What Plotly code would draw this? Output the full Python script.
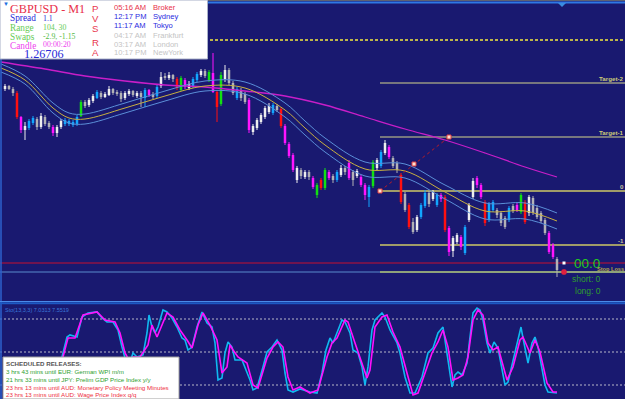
import plotly.graph_objects as go

W, H = 625, 399
BG = "#191970"
SERIF = "Liberation Serif, Times New Roman, serif"
SANS = "Liberation Sans, Arial, sans-serif"

# ---------------- data: M1 candles (bar index 0..138) ----------------
candle_open = [1.26887,1.26890,1.26887,1.26883,1.26859,1.26846,1.26848,1.26853,1.26857,1.26849,
               1.26859,1.26853,1.26849,1.26843,1.26849,1.26852,1.26852,1.26851,1.26852,1.26860,
               1.26874,1.26871,1.26875,1.26878,1.26883,1.26879,1.26881,1.26887,1.26884,1.26883,
               1.26878,1.26882,1.26885,1.26880,1.26883,1.26878,1.26886,1.26882,1.26880,1.26890,
               1.26900,1.26898,1.26901,1.26897,1.26886,1.26896,1.26888,1.26890,1.26896,1.26901,
               1.26905,1.26896,1.26903,1.26884,1.26872,1.26897,1.26906,1.26893,1.26878,1.26886,
               1.26882,1.26876,1.26844,1.26848,1.26854,1.26859,1.26864,1.26863,1.26870,1.26867,
               1.26850,1.26832,1.26821,1.26796,1.26806,1.26799,1.26804,1.26798,1.26781,1.26796,
               1.26788,1.26804,1.26800,1.26796,1.26801,1.26808,1.26813,1.26804,1.26800,1.26799,
               1.26791,1.26779,1.26790,1.26808,1.26810,1.26823,1.26829,1.26818,1.26813,1.26801,
               1.26782,1.26771,1.26754,1.26746,1.26759,1.26770,1.26783,1.26777,1.26771,1.26781,
               1.26779,1.26748,1.26725,1.26734,1.26739,1.26723,1.26756,1.26779,1.26798,1.26791,
               1.26774,1.26756,1.26766,1.26766,1.26763,1.26758,1.26756,1.26770,1.26771,1.26764,
               1.26774,1.26763,1.26778,1.26768,1.26763,1.26756,1.26743,1.26731,1.26717]
candle_close = [1.26890,1.26887,1.26883,1.26859,1.26846,1.26850,1.26855,1.26858,1.26849,1.26860,
                1.26852,1.26849,1.26843,1.26849,1.26855,1.26856,1.26855,1.26854,1.26859,1.26874,
                1.26870,1.26876,1.26880,1.26884,1.26879,1.26882,1.26887,1.26883,1.26882,1.26877,
                1.26883,1.26885,1.26881,1.26883,1.26879,1.26886,1.26881,1.26879,1.26889,1.26899,
                1.26898,1.26901,1.26897,1.26888,1.26898,1.26889,1.26892,1.26897,1.26902,1.26905,
                1.26900,1.26904,1.26884,1.26869,1.26901,1.26906,1.26893,1.26883,1.26887,1.26878,
                1.26874,1.26846,1.26850,1.26856,1.26861,1.26868,1.26870,1.26871,1.26866,1.26850,
                1.26833,1.26820,1.26806,1.26808,1.26800,1.26804,1.26799,1.26789,1.26791,1.26788,
                1.26806,1.26798,1.26796,1.26804,1.26808,1.26804,1.26798,1.26796,1.26805,1.26791,
                1.26781,1.26789,1.26814,1.26816,1.26824,1.26833,1.26819,1.26810,1.26806,1.26774,
                1.26766,1.26749,1.26744,1.26759,1.26771,1.26783,1.26772,1.26784,1.26781,1.26777,
                1.26746,1.26724,1.26738,1.26741,1.26729,1.26749,1.26771,1.26795,1.26791,1.26779,
                1.26753,1.26772,1.26774,1.26761,1.26753,1.26749,1.26768,1.26765,1.26766,1.26781,
                1.26754,1.26779,1.26763,1.26759,1.26755,1.26743,1.26724,1.26719,1.26706]
candle_high = [1.26892,1.26891,1.26889,1.26885,1.26860,1.26854,1.26857,1.26860,1.26859,1.26863,
               1.26861,1.26855,1.26851,1.26851,1.26857,1.26858,1.26857,1.26856,1.26861,1.26876,
               1.26876,1.26878,1.26882,1.26886,1.26885,1.26884,1.26890,1.26888,1.26886,1.26885,
               1.26885,1.26887,1.26886,1.26885,1.26885,1.26888,1.26887,1.26884,1.26891,1.26904,
               1.26903,1.26904,1.26902,1.26899,1.26900,1.26898,1.26895,1.26899,1.26904,1.26907,
               1.26907,1.26906,1.26923,1.26886,1.26904,1.26911,1.26908,1.26895,1.26889,1.26888,
               1.26884,1.26878,1.26852,1.26858,1.26863,1.26870,1.26873,1.26873,1.26872,1.26869,
               1.26852,1.26834,1.26823,1.26810,1.26808,1.26806,1.26806,1.26800,1.26793,1.26798,
               1.26808,1.26806,1.26802,1.26806,1.26811,1.26810,1.26816,1.26806,1.26807,1.26801,
               1.26793,1.26791,1.26816,1.26818,1.26826,1.26836,1.26831,1.26820,1.26815,1.26803,
               1.26784,1.26773,1.26758,1.26761,1.26773,1.26786,1.26785,1.26786,1.26783,1.26783,
               1.26781,1.26750,1.26740,1.26743,1.26741,1.26751,1.26773,1.26798,1.26800,1.26793,
               1.26776,1.26774,1.26776,1.26768,1.26765,1.26760,1.26770,1.26772,1.26773,1.26783,
               1.26776,1.26781,1.26780,1.26771,1.26765,1.26758,1.26745,1.26733,1.26719]
candle_low = [1.26885,1.26886,1.26880,1.26857,1.26843,1.26836,1.26846,1.26851,1.26846,1.26847,
              1.26850,1.26847,1.26840,1.26839,1.26847,1.26850,1.26850,1.26849,1.26850,1.26859,
              1.26868,1.26869,1.26873,1.26877,1.26877,1.26878,1.26880,1.26881,1.26880,1.26874,
              1.26876,1.26880,1.26879,1.26878,1.26869,1.26869,1.26879,1.26877,1.26878,1.26888,
              1.26896,1.26896,1.26894,1.26886,1.26885,1.26887,1.26886,1.26888,1.26894,1.26899,
              1.26898,1.26894,1.26883,1.26854,1.26870,1.26894,1.26891,1.26881,1.26876,1.26875,
              1.26872,1.26843,1.26841,1.26846,1.26852,1.26857,1.26862,1.26861,1.26864,1.26848,
              1.26831,1.26818,1.26804,1.26793,1.26797,1.26797,1.26796,1.26787,1.26778,1.26786,
              1.26786,1.26796,1.26793,1.26794,1.26799,1.26801,1.26796,1.26790,1.26798,1.26789,
              1.26776,1.26769,1.26788,1.26806,1.26808,1.26821,1.26817,1.26808,1.26803,1.26772,
              1.26764,1.26747,1.26742,1.26744,1.26757,1.26768,1.26769,1.26775,1.26769,1.26774,
              1.26744,1.26720,1.26719,1.26732,1.26726,1.26721,1.26754,1.26777,1.26788,1.26777,
              1.26750,1.26754,1.26764,1.26758,1.26750,1.26747,1.26754,1.26763,1.26764,1.26762,
              1.26752,1.26760,1.26761,1.26757,1.26753,1.26741,1.26722,1.26717,1.26699]
# PVSRA class per bar: W normal bull, G normal bear, R bear climax, N bull climax,
# M bear rising volume, C bull rising volume
candle_class = ("W G G R M W C C G W G G M W W C C C C N "
                "G W W C G W W G G G W W G W G C M G C W "
                "G W G R N M W C C W G N M R N W G G C G "
                "G M W W W W W C G R M M M W G W G M N R "
                "N M G C W G M G W M M C N W C W M G G R "
                "G R G W C C G W C M R M W W M C W W M M "
                "R C C G G G C G M N R W G G G G M M G").split()
class_colors = {"W": "#eeeeee", "G": "#b2b2b6", "R": "#ff1010", "N": "#12e012",
                "M": "#ff14ff", "C": "#12a6ff"}

# ---------------- data: indicators on the price chart ----------------
sma_idx = [-1, 10, 20, 30, 40, 50, 60, 70, 80, 90, 100, 110, 120, 130, 138]
sma_val = [1.26914, 1.26907, 1.26900, 1.26895, 1.26891, 1.26889, 1.26885, 1.26880,
           1.26871, 1.26859, 1.26847, 1.26836, 1.26823, 1.26809, 1.26799]
band_idx = [-1, 5, 12, 16, 20, 30, 40, 50, 60, 70, 75, 80, 90, 100, 110, 120, 130, 138]
band_mid = [1.26908, 1.26896, 1.26868, 1.26858, 1.26857, 1.26868, 1.26880, 1.26890, 1.26888,
            1.26866, 1.26848, 1.26831, 1.26807, 1.26805, 1.26784, 1.26765, 1.26765, 1.26755]
band_up = [1.26912, 1.26900, 1.26873, 1.26863, 1.26862, 1.26873, 1.26885, 1.26895, 1.26894,
           1.26873, 1.26855, 1.26838, 1.26814, 1.26812, 1.26791, 1.26773, 1.26773, 1.26763]
band_lo = [1.26904, 1.26892, 1.26863, 1.26853, 1.26852, 1.26863, 1.26875, 1.26885, 1.26882,
           1.26859, 1.26841, 1.26824, 1.26800, 1.26798, 1.26777, 1.26757, 1.26757, 1.26747]

# horizontal levels
level_names = ["Target-2", "Target-1", "0", "-1", "Stop Loss"]
level_prices = [1.26893, 1.26839, 1.26785, 1.26731, 1.26704]
level_start = 93.75
day_line = 1.26936
ask_line = 1.26713
bid_line = 1.26704
trend_idx = [93.75, 102.25, 111.0]
trend_val = [1.26785, 1.26812, 1.26839]
mark_idx = 139.75
mark_white = 1.26713
mark_red = 1.26704

# ---------------- data: Stochastic (13,3,3) ----------------
sto_main_idx = [0,3.75,7.5,10.75,12.5,14.25,15.5,16.25,18,19.25,20.75,23,24.25,25.5,27,28.25,29.25,30,31,32,
                33,34.5,35.5,36,36.75,37.5,38.25,39.5,40.5,41.75,43,44.25,45,45.75,46.75,48,49.25,50.5,51.75,52.5,
                53.25,54.25,55,55.75,56.75,57.5,59.25,60,61.25,62,63,64.5,65.5,66.75,68,69.25,70,70.75,72,73.75,
                76.25,78,79.25,80.25,81.25,82,83,84.25,85,86.25,87,88.25,89.25,90,90.75,91.75,92.5,94.25,95,96.25,
                98,98.75,100,101.25,102.5,104.25,105.75,107,108.25,109.5,110.75,111.75,112.5,113.25,114.25,115.5,116.25,117,118,118.75,
                119.5,120.5,121.25,122.25,123.25,124.25,125,125.75,127,128.25,129,129.5,130.75,131.75,132.5,133.25,134.25,135,135.75,138]
sto_main = [20.0,15.5,17.3,29.1,40.9,45.5,63.6,65.5,63.6,81.8,85.5,86.4,80.9,77.3,77.3,70.0,54.5,44.5,38.2,49.1,
            45.5,47.3,67.3,83.6,72.7,67.3,72.7,88.2,86.4,80.9,72.7,62.7,60.9,51.8,54.5,72.7,86.4,76.4,72.7,58.2,
            24.5,26.4,49.1,59.1,54.5,42.7,42.7,36.4,24.5,15.5,17.3,36.4,50.0,54.5,60.9,51.8,30.9,15.5,13.6,16.4,
            13.6,12.7,30.9,51.8,62.7,58.2,67.3,79.1,77.3,67.3,51.8,49.1,36.4,20.0,36.4,70.0,79.1,85.5,81.8,70.0,
            58.2,49.1,27.3,12.7,12.7,27.3,49.1,53.6,67.3,72.7,42.7,18.2,29.1,31.8,29.1,40.0,63.6,85.5,90.0,88.2,
            79.1,58.2,49.1,59.1,53.6,33.6,20.0,22.7,42.7,60.9,72.7,62.7,40.0,58.2,63.6,54.5,33.6,20.0,13.6,12.7]
sto_sig_idx = [0,3.75,7.5,11.25,13.25,14.5,15.75,17.5,19.5,23,25,27.5,28.75,30,31.25,32,33.75,35.75,36.75,38,
               39.25,40.5,42,43.75,45.5,46.75,48.25,49.5,51.25,53,54.25,55.5,56.25,57,58.25,60.5,62,63.25,65.5,67,
               68.25,69.5,70.75,72,73.75,76.25,78.25,80.5,81.75,83,85,85.75,87.5,88.75,90.5,91.25,92.5,94.25,95.5,97,
               98.75,100.5,102,103.25,105,106.75,108.25,109.5,110.75,112,113.25,114.5,115.75,117,118.25,119.5,120.75,122,123.25,125.5,
               127,128.75,129.5,131.25,132.5,133.75,135.5,137,138]
sto_sig = [17.3,15.5,16.4,24.5,35.5,45.5,62.7,62.7,83.6,86.4,79.1,77.3,67.3,49.1,40.9,45.5,45.5,56.4,74.5,63.6,
           74.5,85.5,81.8,70.0,60.9,53.6,74.5,85.5,74.5,60.9,30.9,36.4,56.4,51.8,45.5,40.0,20.0,17.3,44.5,54.5,
           59.1,54.5,27.3,15.5,18.2,12.7,15.5,45.5,58.2,62.7,79.1,77.3,58.2,45.5,26.4,33.6,72.7,81.8,83.6,68.2,
           54.5,30.9,10.9,12.7,30.9,49.1,59.1,70.0,54.5,24.5,26.4,29.1,45.5,79.1,88.2,83.6,58.2,51.8,54.5,24.5,
           36.4,60.9,63.6,49.1,60.9,50.0,21.8,13.6,13.6]
sto_levels = [80, 50, 20]

# ---------------- text content ----------------
clock_times = ["05:16 AM", "12:17 PM", "11:17 AM", "04:17 AM", "03:17 AM", "10:17 PM"]
clock_names = ["Broker", "Sydney", "Tokyo", "Frankfurt", "London", "NewYork"]
clock_colors = ["#e8304a", "#2a2ae0", "#2a2ae0", "#c4c4c4", "#c4c4c4", "#c4c4c4"]
releases = ["3 hrs 43 mins until EUR: German WPI m/m",
            "21 hrs 33 mins until JPY: Prelim GDP Price Index y/y",
            "23 hrs 13 mins until AUD: Monetary Policy Meeting Minutes",
            "23 hrs 13 mins until AUD: Wage Price Index q/q"]
release_colors = ["#2ea02e", "#2ea02e", "#ee2e3e", "#ee2e3e"]

# ---------------- figure ----------------
fig = go.Figure()

# candle bodies and wicks, one pair of traces per colour class
for cls, col in class_colors.items():
    idx = [i for i, c in enumerate(candle_class) if c == cls]
    wx, wy = [], []
    for i in idx:
        wx += [i, i, None]
        wy += [candle_high[i], candle_low[i], None]
    fig.add_trace(go.Scatter(x=wx, y=wy, mode="lines", line=dict(color=col, width=1),
                             hoverinfo="skip", showlegend=False, xaxis="x", yaxis="y"))
    fig.add_trace(go.Bar(x=idx, base=[candle_open[i] for i in idx],
                         y=[candle_close[i] - candle_open[i] for i in idx],
                         width=0.62, marker=dict(color=col, line=dict(width=0)),
                         hoverinfo="skip", showlegend=False, xaxis="x", yaxis="y"))

# indicator lines
fig.add_trace(go.Scatter(x=sma_idx, y=sma_val, mode="lines", line=dict(color="#c81ec8", width=1.3, shape="spline"),
                         showlegend=False, hoverinfo="skip"))
for arr, col in [(band_up, "#5b8fd8"), (band_lo, "#5b8fd8"), (band_mid, "#c8b040")]:
    fig.add_trace(go.Scatter(x=band_idx, y=arr, mode="lines", line=dict(color=col, width=1, shape="spline"),
                             showlegend=False, hoverinfo="skip"))

# trend projection
fig.add_trace(go.Scatter(x=trend_idx, y=trend_val, mode="lines+markers",
                         line=dict(color="#b81c28", width=1, dash="3px,3px"),
                         marker=dict(symbol="square", size=4, color="#ffe0d0", line=dict(color="#e04040", width=1)),
                         showlegend=False, hoverinfo="skip"))
fig.add_trace(go.Scatter(x=[mark_idx], y=[mark_white], mode="markers",
                         marker=dict(symbol="square", size=3, color="#ffffff"), showlegend=False, hoverinfo="skip"))
fig.add_trace(go.Scatter(x=[mark_idx], y=[mark_red], mode="markers",
                         marker=dict(symbol="asterisk", size=5, color="#e02040", line=dict(color="#e02040", width=1.5)),
                         showlegend=False, hoverinfo="skip"))

# stochastic
fig.add_trace(go.Scatter(x=sto_main_idx, y=sto_main, mode="lines", line=dict(color="#10b8f0", width=1.6),
                         xaxis="x2", yaxis="y2", showlegend=False, hoverinfo="skip"))
fig.add_trace(go.Scatter(x=sto_sig_idx, y=sto_sig, mode="lines", line=dict(color="#ff10ff", width=1.6),
                         xaxis="x2", yaxis="y2", showlegend=False, hoverinfo="skip"))

def px(x):
    return x / W

def py(y):
    return 1 - y / H

shapes = []
# price-level lines (behind candles)
shapes.append(dict(type="line", xref="paper", yref="y", x0=0, x1=1, y0=day_line, y1=day_line,
                   line=dict(color="#f4ec3c", width=1.3, dash="3px,2px"), layer="below"))
shapes.append(dict(type="line", xref="paper", yref="y", x0=0, x1=1, y0=ask_line, y1=ask_line,
                   line=dict(color="#c8102e", width=1), layer="below"))
shapes.append(dict(type="line", xref="paper", yref="y", x0=0, x1=1, y0=bid_line, y1=bid_line,
                   line=dict(color="#5a8ccc", width=1), layer="below"))
level_styles = [("#d6d68c", 1), ("#d6d68c", 1), ("#a09c68", 2), ("#a09c68", 2), ("#8ea27a", 2)]
for price, (col, wd) in zip(level_prices, level_styles):
    shapes.append(dict(type="line", xref="x", yref="y", x0=level_start, x1=155, y0=price, y1=price,
                       line=dict(color=col, width=wd), layer="below"))
for lv in sto_levels:
    shapes.append(dict(type="line", xref="paper", yref="y2", x0=0, x1=1, y0=lv, y1=lv,
                       line=dict(color="#b8b8c8", width=1, dash="2px,2px"), layer="below"))
# window frame
shapes.append(dict(type="line", xref="paper", yref="paper", x0=px(1), x1=px(1), y0=0, y1=1,
                   line=dict(color="#2c60cc", width=1.5)))
shapes.append(dict(type="line", xref="paper", yref="paper", x0=0, x1=1, y0=py(0.5), y1=py(0.5),
                   line=dict(color="#606070", width=1)))
shapes.append(dict(type="line", xref="paper", yref="paper", x0=0, x1=1, y0=py(2.5), y1=py(2.5),
                   line=dict(color="#2f78e4", width=2)))
shapes.append(dict(type="line", xref="paper", yref="paper", x0=0, x1=1, y0=py(301.5), y1=py(301.5),
                   line=dict(color="#4a8ae8", width=1)))
shapes.append(dict(type="line", xref="paper", yref="paper", x0=0, x1=1, y0=py(303.2), y1=py(303.2),
                   line=dict(color="#1d58c4", width=2)))
shapes.append(dict(type="path", xref="paper", yref="paper",
                   path=f"M {px(558)} {py(3)} L {px(566)} {py(3)} L {px(562)} {py(7)} Z",
                   fillcolor="#3a8ce0", line=dict(width=0)))
# info panels
shapes.append(dict(type="rect", xref="paper", yref="paper", x0=0, x1=px(207.5), y0=py(59), y1=1,
                   fillcolor="#ffffff", line=dict(color="#a8b0c8", width=1)))
shapes.append(dict(type="rect", xref="paper", yref="paper", x0=px(3), x1=px(179), y0=0, y1=py(357),
                   fillcolor="#ffffff", line=dict(color="#a0a0a0", width=1)))

ann = []
def txt(s, x, y, size, color, family=SANS, anchor="left"):
    ann.append(dict(text=s, x=px(x), y=py(y), xref="paper", yref="paper", xanchor=anchor, yanchor="middle",
                    showarrow=False, borderpad=0, font=dict(size=size, color=color, family=family)))

txt("▼", 2, 4, 6, "#2070e0")
txt("GBPUSD - M1", 9, 9, 12.2, "#e8304a", SERIF)
txt("Spread", 9, 18.5, 9.3, "#2a2ad8", SERIF)
txt("1.1", 42, 18, 7.8, "#2a2ad8", SERIF)
txt("Range", 9, 28, 9.3, "#66cc55", SERIF)
txt("104, 30", 42, 27.5, 7.8, "#66cc55", SERIF)
txt("Swaps", 9, 37, 9.3, "#66cc55", SERIF)
txt("-2.9, -1.15", 42, 36.5, 7.8, "#55bb44", SERIF)
txt("Candle", 9, 45.5, 9.3, "#ee44ee", SERIF)
txt("00:00:20", 42, 45, 7.8, "#ee44ee", SERIF)
txt("1.26706", 23, 54.5, 12.2, "#2a2ad8", SERIF)
for ch, yy in zip("PVSRA", [9, 18.5, 28, 42.5, 52]):
    txt(ch, 90.5, yy, 9.6, "#e8364e")
for t, n, c, yy in zip(clock_times, clock_names, clock_colors, [7, 16.7, 25.8, 35, 44, 53]):
    txt(t, 113, yy, 7.6, c)
    txt(n, 152, yy, 7.6, c)

txt("Sto(13,3,3) 7.0313 7.5519", 4, 310, 5.5, "#3a78d8")
txt("<b>SCHEDULED RELEASES:</b>", 5, 363, 6.2, "#555555")
for s, c, yy in zip(releases, release_colors, [371.5, 379.3, 387.2, 394.8]):
    txt(s, 5, yy, 6.2, c)

txt("00.0", 573, 263, 13.5, "#22c822")
txt("short: 0", 571, 279, 8.5, "#2e9e2e")
txt("long: 0", 574, 291, 8.5, "#2e9e2e")

level_label_colors = ["#cccc78", "#cccc78", "#c8c4a0", "#c8c4a0", "#b8a848"]
for name, price, col in zip(level_names, level_prices, level_label_colors):
    size = 5.6 if name == "Stop Loss" else 6.2
    ann.append(dict(text=f"<b>{name}</b>", x=px(624.5), y=price, xref="paper", yref="y",
                    xanchor="right", yanchor="bottom", yshift=-1 if name == "Stop Loss" else 0,
                    showarrow=False, borderpad=0,
                    font=dict(size=size, color=col, family=SANS)))

fig.update_layout(
    width=W, height=H, margin=dict(l=0, r=0, t=0, b=0),
    paper_bgcolor=BG, plot_bgcolor=BG, barmode="overlay", showlegend=False,
    hovermode=False,
    xaxis=dict(range=[-1.25, 155], visible=False, showgrid=False, zeroline=False, anchor="y"),
    yaxis=dict(range=[1.26676, 1.26976], domain=[1 - 300 / H, 1], visible=False,
               showgrid=False, zeroline=False),
    xaxis2=dict(range=[-1.25, 155], visible=False, showgrid=False, zeroline=False, anchor="y2"),
    yaxis2=dict(range=[7.27, 92.73], domain=[0, 94 / H], visible=False, showgrid=False, zeroline=False),
    shapes=shapes, annotations=ann,
)

fig.write_html("out.html", config={"displayModeBar": False})
